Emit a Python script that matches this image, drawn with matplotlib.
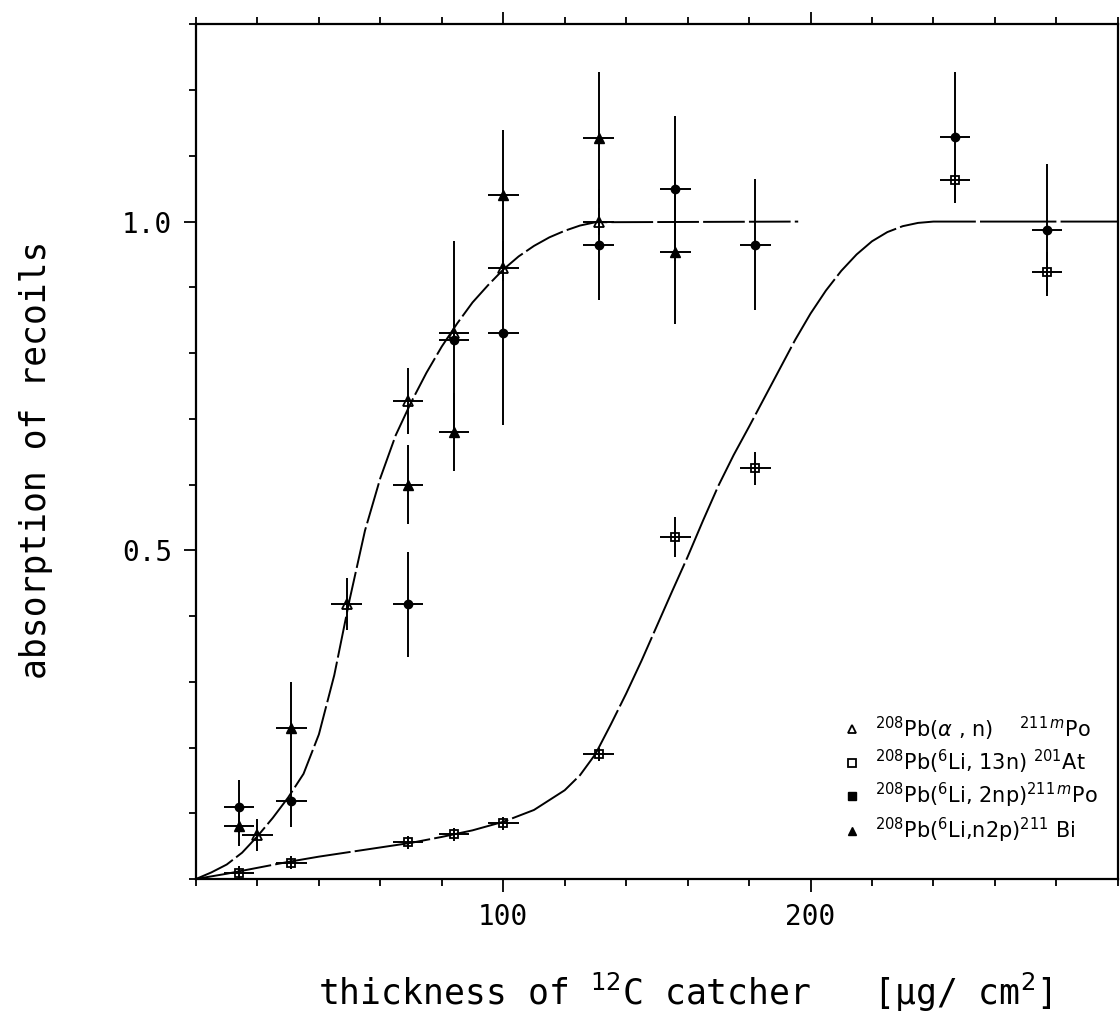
import numpy as np
import matplotlib
matplotlib.use("Agg")
import matplotlib.pyplot as plt
from matplotlib.lines import Line2D
from matplotlib.ticker import MultipleLocator, FixedLocator

plt.rcParams['lines.scale_dashes'] = False
plt.rcParams['mathtext.fontset'] = 'dejavusans'

# 208Pb(alpha,n)211mPo  (open triangles)
an_x = [20, 49, 69, 84, 100, 131]
an_y = [0.067, 0.418, 0.727, 0.83, 0.93, 1.0]
an_yerr = [0.025, 0.04, 0.05, 0.02, 0.02, 0.02]

# 208Pb(6Li,13n)201At  (open squares)
at_x = [14, 31, 69, 84, 100, 131, 156, 182, 247, 277]
at_y = [0.009, 0.025, 0.056, 0.068, 0.085, 0.19, 0.52, 0.625, 1.063, 0.923]
at_yerr = [0.01, 0.01, 0.01, 0.01, 0.01, 0.01, 0.03, 0.025, 0.03, 0.03]

# 208Pb(6Li,2np)211mPo  (filled circles)
po_x = [14, 31, 69, 84, 100, 131, 156, 182, 247, 277]
po_y = [0.11, 0.119, 0.418, 0.82, 0.83, 0.965, 1.05, 0.965, 1.128, 0.987]
po_yerr = [0.04, 0.04, 0.08, 0.15, 0.14, 0.085, 0.11, 0.10, 0.10, 0.10]

# 208Pb(6Li,n2p)211Bi  (filled triangles)
bi_x = [14, 31, 69, 84, 100, 131, 156]
bi_y = [0.08, 0.229, 0.60, 0.68, 1.04, 1.127, 0.954]
bi_yerr = [0.03, 0.07, 0.06, 0.06, 0.10, 0.10, 0.11]

x_halfwidth = 5

# fitted curves
curve_a_x = [0, 5, 10, 15, 20, 25, 30, 35, 40, 45, 50, 55, 60, 65, 70, 75, 80,
             85, 90, 95, 100, 105, 110, 115, 120, 125, 130, 196]
curve_a_y = [0, 0.01, 0.022, 0.04, 0.065, 0.093, 0.124, 0.16, 0.22, 0.31, 0.425,
             0.53, 0.61, 0.675, 0.725, 0.77, 0.81, 0.845, 0.877, 0.903, 0.927,
             0.947, 0.963, 0.976, 0.986, 0.994, 0.999, 1.0]

curve_b_x = [0, 10, 20, 30, 40, 50, 60, 70, 80, 90, 100, 110, 120, 125, 130, 135,
             140, 145, 150, 155, 160, 165, 170, 175, 180, 185, 190, 195, 200,
             205, 210, 215, 220, 225, 230, 235, 240, 300]
curve_b_y = [0, 0.008, 0.017, 0.026, 0.034, 0.041, 0.048, 0.055, 0.064, 0.074,
             0.087, 0.105, 0.135, 0.158, 0.19, 0.235, 0.282, 0.332, 0.385, 0.438,
             0.49, 0.545, 0.598, 0.645, 0.688, 0.732, 0.776, 0.82, 0.86, 0.895,
             0.925, 0.95, 0.97, 0.984, 0.993, 0.998, 1.0, 1.0]

labels = [r"$^{208}$Pb($\alpha$ , n)    $^{211\,m}$Po",
          r"$^{208}$Pb($^{6}$Li, 13n) $^{201}$At",
          r"$^{208}$Pb($^{6}$Li, 2np)$^{211\,m}$Po",
          r"$^{208}$Pb($^{6}$Li,n2p)$^{211}$ Bi"]

fig = plt.figure(figsize=(11.2, 10.15), dpi=100)
ax = fig.add_axes([0.175, 0.134, 0.823, 0.842])

ax.plot(curve_a_x, curve_a_y, color='black', lw=1.4, dashes=(30, 3))
ax.plot(curve_b_x, curve_b_y, color='black', lw=1.4, dashes=(55, 3))

eb = dict(color='black', ecolor='black', elinewidth=1.4, capsize=0, linestyle='none')
ax.errorbar(an_x, an_y, yerr=an_yerr, xerr=x_halfwidth, marker='^', ms=6.5,
            mfc='none', mec='black', mew=1.3, **eb)
ax.errorbar(at_x, at_y, yerr=at_yerr, xerr=x_halfwidth, marker='s', ms=5.5,
            mfc='none', mec='black', mew=1.3, **eb)
ax.errorbar(po_x, po_y, yerr=po_yerr, xerr=x_halfwidth, marker='o', ms=6,
            mfc='black', mec='black', **eb)
ax.errorbar(bi_x, bi_y, yerr=bi_yerr, xerr=x_halfwidth, marker='^', ms=6.5,
            mfc='black', mec='black', **eb)

ax.set_xlim(0, 300)
ax.set_ylim(0, 1.3)

ax.xaxis.set_major_locator(FixedLocator([100, 200]))
ax.xaxis.set_minor_locator(MultipleLocator(20))
ax.yaxis.set_major_locator(FixedLocator([0.5, 1.0]))
ax.yaxis.set_minor_locator(MultipleLocator(0.1))
ax.set_xticklabels(['100', '200'])
ax.set_yticklabels(['0.5', '1.0'])

ax.tick_params(which='both', direction='out', top=True, right=False, width=1.3)
ax.tick_params(which='major', length=9)
ax.tick_params(which='minor', length=5)
ax.tick_params(axis='both', labelsize=20, pad=8)
for lab in ax.get_xticklabels() + ax.get_yticklabels():
    lab.set_family('DejaVu Sans Mono')
for sp in ax.spines.values():
    sp.set_linewidth(1.6)

ax.set_ylabel('absorption of recoils', fontsize=25, family='DejaVu Sans Mono')
ax.yaxis.set_label_coords(-0.155, 0.49)
ax.set_xlabel(r'thickness of $^{12}$C catcher   [µg/ cm$^{2}$]', fontsize=25,
              family='DejaVu Sans Mono')
ax.xaxis.set_label_coords(0.53, -0.107)

handles = [Line2D([], [], ls='none', marker='^', ms=6, mfc='none', mec='black', mew=1.3),
           Line2D([], [], ls='none', marker='s', ms=6, mfc='none', mec='black', mew=1.3),
           Line2D([], [], ls='none', marker='s', ms=6, mfc='black', mec='black'),
           Line2D([], [], ls='none', marker='^', ms=6, mfc='black', mec='black')]
ax.legend(handles, labels, loc='lower left', bbox_to_anchor=(0.70, 0.04),
          frameon=False, fontsize=15, handlelength=1.0, handletextpad=0.6,
          labelspacing=0.25, borderaxespad=0, borderpad=0)

fig.savefig('out.png', dpi=100)
